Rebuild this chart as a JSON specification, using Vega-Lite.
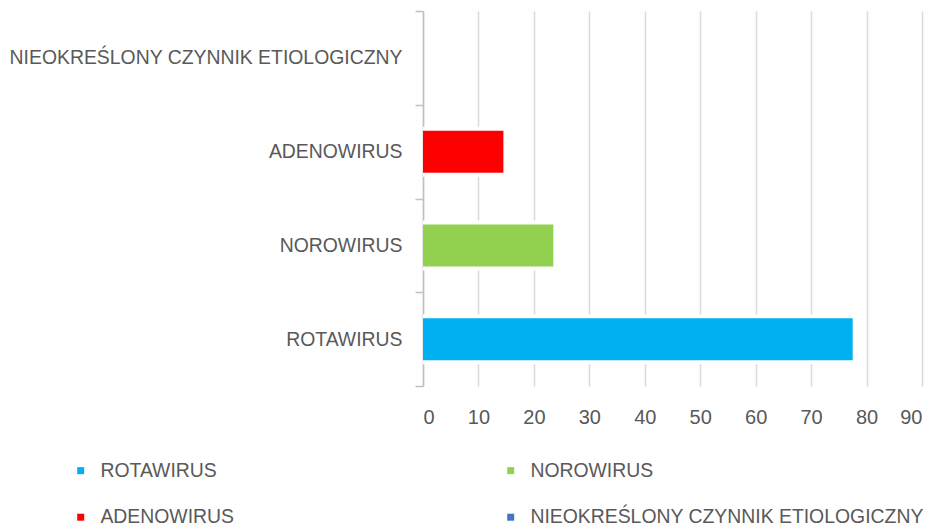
{
  "$schema": "https://vega.github.io/schema/vega-lite/v6.json",
  "width": 499,
  "height": 375,
  "autosize": {"type": "none"},
  "padding": {"left": 423, "top": 11, "right": 16, "bottom": 140},
  "background": "white",
  "config": {"view": {"stroke": null}, "font": "Liberation Sans"},
  "data": {
    "values": [
      {"kategoria": "ROTAWIRUS", "wartosc": 77.5},
      {"kategoria": "NOROWIRUS", "wartosc": 23.5},
      {"kategoria": "ADENOWIRUS", "wartosc": 14.5},
      {"kategoria": "NIEOKREŚLONY CZYNNIK ETIOLOGICZNY", "wartosc": 0}
    ]
  },
  "encoding": {
    "y": {
      "field": "kategoria",
      "type": "nominal",
      "sort": ["NIEOKREŚLONY CZYNNIK ETIOLOGICZNY", "ADENOWIRUS", "NOROWIRUS", "ROTAWIRUS"],
      "scale": {"paddingInner": 0, "paddingOuter": 0},
      "axis": {
        "title": null,
        "labelFontSize": 19.4,
        "labelColor": "#595959",
        "domainColor": "#c0c0c0",
        "domainWidth": 1.5,
        "tickColor": "#c0c0c0",
        "tickWidth": 1.5,
        "tickSize": 8,
        "tickBand": "extent",
        "labelPadding": 13,
        "labelLimit": 500,
        "grid": false
      }
    },
    "x": {
      "field": "wartosc",
      "type": "quantitative",
      "scale": {"domain": [0, 90], "nice": false},
      "axis": {
        "title": null,
        "values": [0, 10, 20, 30, 40, 50, 60, 70, 80, 90],
        "grid": true,
        "gridColor": "#d9d9d9",
        "gridWidth": 1.5,
        "domain": false,
        "ticks": false,
        "labelFontSize": 20,
        "labelColor": "#595959",
        "labelPadding": 21.5
      }
    }
  },
  "layer": [
    {
      "mark": {"type": "bar", "color": "white", "size": 50}
    },
    {
      "mark": {"type": "bar", "size": 42},
      "encoding": {
        "color": {
          "field": "kategoria",
          "type": "nominal",
          "scale": {
            "domain": ["ROTAWIRUS", "NOROWIRUS", "ADENOWIRUS", "NIEOKREŚLONY CZYNNIK ETIOLOGICZNY"],
            "range": ["#00B0F0", "#92D050", "#FF0000", "#4472C4"]
          },
          "legend": {
            "title": null,
            "orient": "none",
            "legendX": -352,
            "legendY": 449.5,
            "direction": "horizontal",
            "columns": 2,
            "symbolType": "square",
            "symbolSize": 49,
            "symbolStrokeWidth": 0,
            "labelFontSize": 19.4,
            "labelColor": "#595959",
            "labelOffset": 10,
            "labelLimit": 500,
            "columnPadding": 267,
            "rowPadding": 26,
            "padding": 0
          }
        }
      }
    }
  ]
}
